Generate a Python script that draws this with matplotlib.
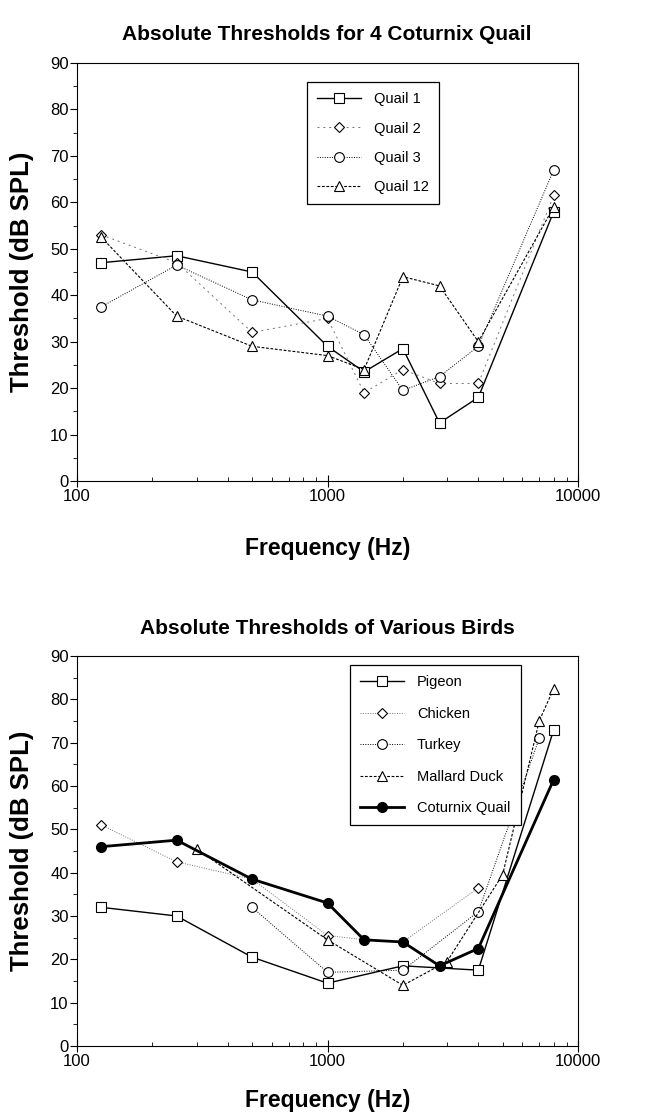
import numpy as np
import matplotlib
matplotlib.use("Agg")
import matplotlib.pyplot as plt
from matplotlib.ticker import LogLocator, MultipleLocator, FixedLocator, FixedFormatter, NullFormatter

plt.rcParams['font.family'] = ['Liberation Sans', 'DejaVu Sans']

# top chart: 4 quail
freq_q = [125, 250, 500, 1000, 1400, 2000, 2800, 4000, 8000]
quail1 = [47, 48.5, 45, 29, 23.5, 28.5, 12.5, 18, 58]
quail2 = [53, 47, 32, 35, 19, 24, 21, 21, 61.5]
quail3 = [37.5, 46.5, 39, 35.5, 31.5, 19.5, 22.5, 29, 67]
quail12 = [52.5, 35.5, 29, 27, 24, 44, 42, 30, 59]

# bottom chart: various birds
freq_pigeon = [125, 250, 500, 1000, 2000, 4000, 8000]
pigeon = [32, 30, 20.5, 14.5, 18.5, 17.5, 73]
freq_chicken = [125, 250, 500, 1000, 1400, 2000, 4000]
chicken = [51, 42.5, 38.5, 25.5, 24.5, 24, 36.5]
freq_turkey = [500, 1000, 2000, 4000, 7000]
turkey = [32, 17, 17.5, 31, 71]
freq_mallard = [300, 1000, 2000, 3000, 5000, 7000, 8000]
mallard = [45.5, 24.5, 14, 19.5, 39.5, 75, 82.5]
freq_coturnix = [125, 250, 500, 1000, 1400, 2000, 2800, 4000, 8000]
coturnix = [46, 47.5, 38.5, 33, 24.5, 24, 18.5, 22.5, 61.5]

W, H = 645, 1117
fig = plt.figure(figsize=(W / 100, H / 100), dpi=100)

def px_axes(left, top, right, bottom):
    return fig.add_axes([left / W, 1 - bottom / H, (right - left) / W, (bottom - top) / H])

ax1 = px_axes(77, 63, 578, 481)
ax2 = px_axes(77, 656, 578, 1046)

mk = dict(markersize=7, markerfacecolor='white', markeredgecolor='black', markeredgewidth=0.8)

ax1.plot(freq_q, quail1, '-', color='black', lw=1.0, marker='s', label='Quail 1', **mk)
ax1.plot(freq_q, quail2, color='0.45', lw=0.7, ls=(0, (2, 4)), marker='D', label='Quail 2',
         **dict(mk, markersize=5))
ax1.plot(freq_q, quail3, color='black', lw=0.7, ls=(0, (1, 1.5)), marker='o', label='Quail 3', **mk)
ax1.plot(freq_q, quail12, color='black', lw=0.8, ls=(0, (2.5, 1.5)), marker='^', label='Quail 12', **mk)

ax2.plot(freq_pigeon, pigeon, '-', color='black', lw=1.0, marker='s', label='Pigeon', **mk)
ax2.plot(freq_chicken, chicken, color='0.45', lw=0.7, ls=(0, (1, 1.5)), marker='D', label='Chicken',
         **dict(mk, markersize=5))
ax2.plot(freq_turkey, turkey, color='black', lw=0.7, ls=(0, (1, 1.5)), marker='o', label='Turkey', **mk)
ax2.plot(freq_mallard, mallard, color='black', lw=0.8, ls=(0, (2.5, 1.5)), marker='^', label='Mallard Duck', **mk)
ax2.plot(freq_coturnix, coturnix, '-', color='black', lw=2.0, marker='o', markersize=7,
         markerfacecolor='black', markeredgecolor='black', label='Coturnix Quail')

titles = ['Absolute Thresholds for 4 Coturnix Quail', 'Absolute Thresholds of Various Birds']
title_y = [35, 628]
xlabel_off = [67, 54]
legend_xy = [(307, 82), (350, 665)]
legend_spacing = [1.05, 1.2]

for ax, title, ty, xo, (lx, ly), lsp in zip([ax1, ax2], titles, title_y, xlabel_off, legend_xy, legend_spacing):
    ax.set_xscale('log')
    ax.set_xlim(100, 10000)
    ax.set_ylim(0, 90)
    ax.xaxis.set_major_locator(FixedLocator([100, 1000, 10000]))
    ax.xaxis.set_major_formatter(FixedFormatter(['100', '1000', '10000']))
    ax.xaxis.set_minor_locator(LogLocator(base=10, subs=np.arange(2, 10)))
    ax.xaxis.set_minor_formatter(NullFormatter())
    ax.yaxis.set_major_locator(MultipleLocator(10))
    ax.yaxis.set_minor_locator(MultipleLocator(5))
    ax.tick_params(axis='x', which='major', direction='inout', length=8, width=0.8, labelsize=12, pad=2)
    ax.tick_params(axis='x', which='minor', direction='in', length=3, width=0.6)
    ax.tick_params(axis='y', which='major', direction='out', length=5, width=0.8, labelsize=12, pad=1)
    ax.tick_params(axis='y', which='minor', direction='out', length=3, width=0.6)
    for s in ax.spines.values():
        s.set_linewidth(0.8)
    ax.set_xlabel('Frequency (Hz)', fontsize=16.5, fontweight='bold', va='center')
    ax.xaxis.set_label_coords(0.5, -xo / ax.bbox.height)
    ax.set_ylabel('Threshold (dB SPL)', fontsize=18.5, fontweight='bold', va='center')
    ax.yaxis.set_label_coords(-55 / 501, 0.5)
    fig.text(327 / W, 1 - ty / H, title, ha='center', va='center', fontsize=15, fontweight='bold')
    leg = ax.legend(loc='upper left', bbox_to_anchor=(lx / W, 1 - ly / H), bbox_transform=fig.transFigure,
                    borderaxespad=0, fancybox=False, edgecolor='black', framealpha=1,
                    fontsize=10.5, handlelength=3.0, labelspacing=lsp, handletextpad=0.9,
                    borderpad=0.7)
    leg.get_frame().set_linewidth(0.9)

fig.savefig('out.png', dpi=100)
